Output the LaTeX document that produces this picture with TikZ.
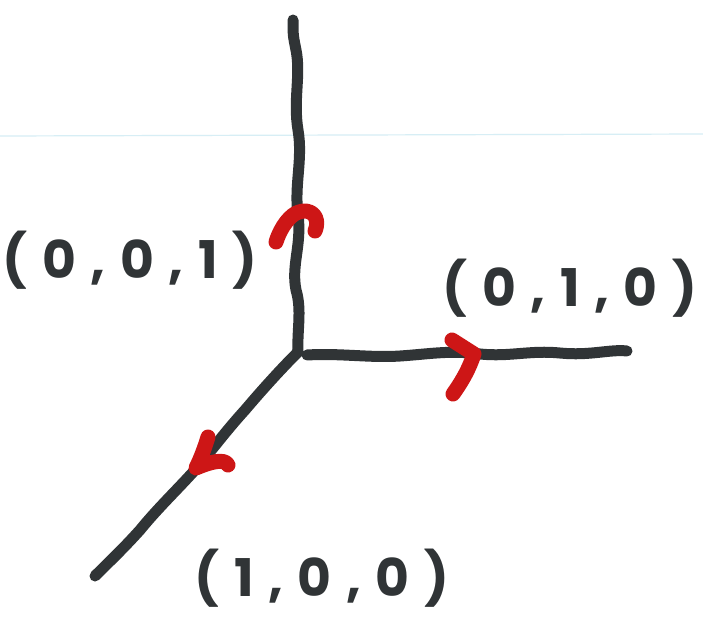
\documentclass[tikz,border=0pt]{standalone}
\usepackage{fontspec}
\setmainfont{Poppins}
\newfontfamily\hand[LetterSpace=28]{Poppins Bold}
\usetikzlibrary{calc}
\definecolor{ink}{RGB}{48,52,54}
\definecolor{redink}{RGB}{205,22,22}
\definecolor{paperline}{RGB}{215,238,245}
\tikzset{
  axis/.style={draw=ink, line width=11pt, line cap=round, line join=round},
  chev/.style={draw=redink, line width=15pt, line cap=round, line join=round},
  lbl/.style={font=\hand\fontsize{52}{60}\selectfont, text=ink, inner sep=0pt}
}
\begin{document}
\begin{tikzpicture}[x=1pt,y=-1pt]
\useasboundingbox (0,0) rectangle (703,624);
\fill[white] (0,0) rectangle (703,624);
\draw[paperline, line width=1.2pt] (0,136) -- (703,134);
% origin and axis ends
\coordinate (o) at (298,352);
\coordinate (ztop) at (293,20);
\coordinate (yend) at (627,351);
\coordinate (xend) at (95,576);
% vertical axis
\draw[axis] (o) .. controls (297,330) and (302,310) .. (296,290)
  .. controls (291,265) and (302,245) .. (298,215)
  .. controls (294,185) and (303,160) .. (298,130)
  .. controls (293,100) and (301,75) .. (296,50)
  .. controls (293,35) .. (ztop);
% horizontal axis
\draw[axis] (307,355) .. controls (340,353) and (370,358) .. (400,356)
  .. controls (430,354) and (450,350) .. (480,354)
  .. controls (510,357) and (530,350) .. (560,353)
  .. controls (590,356) and (610,349) .. (yend);
% diagonal axis
\draw[axis] (o) .. controls (280,370) and (262,390) .. (245,410)
  .. controls (225,432) and (212,450) .. (195,470)
  .. controls (175,492) and (158,508) .. (140,530)
  .. controls (122,550) and (108,563) .. (xend);
% red arrowheads
\coordinate (a1) at (299,212);
\draw[chev] (276,242) .. controls (281,226) and (291,214) .. (a1)
  .. controls (310,208) and (321,216) .. (315,231);
\coordinate (a2) at (474,354);
\draw[chev] (452,340) -- (a2) .. controls (468,372) and (460,384) .. (453,394);
\coordinate (a3) at (196,468);
\draw[chev] (208,437) .. controls (204,450) and (200,460) .. (a3)
  .. controls (210,462) and (225,458) .. (228,465);
% labels
\node[lbl] (l001) at (130,260) {(0,0,1)};
\node[lbl] (l010) at (570,288) {(0,1,0)};
\node[lbl] (l100) at (322,578) {(1,0,0)};
\end{tikzpicture}
\end{document}
